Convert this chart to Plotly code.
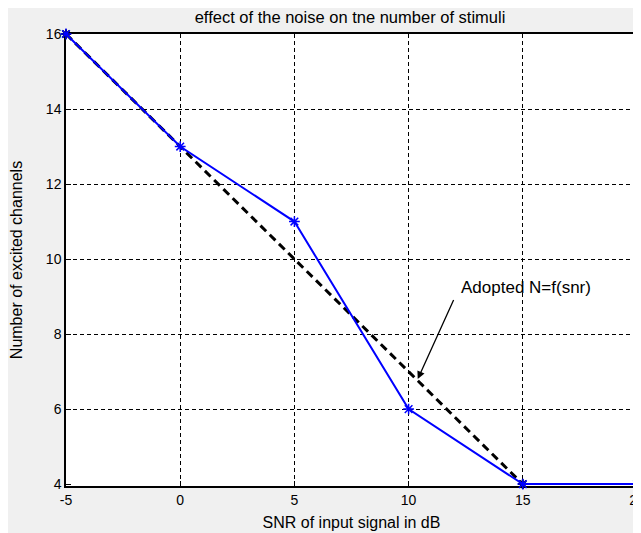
import plotly.graph_objects as go

snr = [-5, 0, 5, 10, 15, 20]
channels = [16, 13, 11, 6, 4, 4]
adopted_x = [-5, 15]
adopted_y = [16, 4]
x_ticks = [-5, 0, 5, 10, 15, 20]
y_ticks = [4, 6, 8, 10, 12, 14, 16]
y_range = [3.95, 16]

font = "Liberation Sans, Arial, sans-serif"

fig = go.Figure()
fig.add_trace(go.Scatter(x=adopted_x, y=adopted_y, mode="lines+markers",
                         line=dict(color="black", width=3, dash="8px,5px"),
                         marker=dict(symbol="asterisk-open", size=8, color="black",
                                     line=dict(color="black", width=2)),
                         showlegend=False, cliponaxis=False))
fig.add_trace(go.Scatter(x=snr, y=channels, mode="lines+markers",
                         line=dict(color="#0000ff", width=2),
                         marker=dict(symbol="asterisk-open", size=9, color="#0000ff",
                                     line=dict(color="#0000ff", width=1.5)),
                         showlegend=False, cliponaxis=False))

grid_style = dict(gridcolor="black", gridwidth=1, griddash="4px,3px")
axis_common = dict(showline=True, linecolor="black", linewidth=1.5, mirror=True,
                   ticks="inside", ticklen=5, tickcolor="black", zeroline=False,
                   automargin=False, layer="below traces",
                   tickfont=dict(family=font, size=14, color="black"))

fig.update_layout(
    width=641, height=533,
    margin=dict(l=58, r=12, t=26, b=55),
    paper_bgcolor="#f0f0f0", plot_bgcolor="white",
    title=dict(text="effect of the noise on tne number of stimuli", x=342 / 641, xanchor="center",
               y=1 - 9 / 533, yanchor="middle", font=dict(family=font, size=16.5, color="black")),
    xaxis=dict(range=[-5, 20], tickvals=x_ticks, ticktext=[str(v) for v in x_ticks],
               showgrid=True, **grid_style,
               title=dict(text="SNR of input signal in dB", standoff=10,
                          font=dict(family=font, size=16, color="black")), **axis_common),
    yaxis=dict(range=y_range, tickvals=y_ticks, ticktext=[str(v) for v in y_ticks],
               showgrid=False,
               title=dict(text="Number of excited channels", standoff=19,
                          font=dict(family=font, size=16, color="black")), **axis_common),
    yaxis2=dict(range=y_range, tickvals=y_ticks[1:], overlaying="y", side="left",
                showticklabels=False, showgrid=True, **grid_style, zeroline=False,
                showline=False, ticks="", automargin=False, layer="below traces"),
)

fig.add_trace(go.Scatter(x=[None], y=[None], yaxis="y2", showlegend=False, hoverinfo="skip"))

fig.add_annotation(x=10.4, y=6.8, ax=12.0, ay=8.95, xref="x", yref="y", axref="x", ayref="y",
                   text="", showarrow=True, arrowhead=2, arrowsize=1.2, arrowwidth=1.3,
                   arrowcolor="black")
fig.add_annotation(x=12.2, y=9.23, xref="x", yref="y", text="Adopted N=f(snr)",
                   showarrow=False, xanchor="left", yanchor="middle",
                   font=dict(family=font, size=17, color="black"))

fig.write_html("out.html")
